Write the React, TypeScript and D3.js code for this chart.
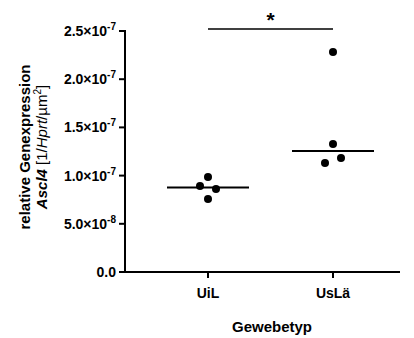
import { useRef, useEffect } from "react";
import * as d3 from "d3";

const groups = ["UiL", "UsLä"];
const uilValues = [0.985e-7, 0.892e-7, 0.861e-7, 0.757e-7];
const uilJitter = [0, -1, 1, 0];
const uslaValues = [2.282e-7, 1.328e-7, 1.183e-7, 1.131e-7];
const uslaJitter = [0, 0, 1, -1];
const yTicks = [0, 0.5e-7, 1.0e-7, 1.5e-7, 2.0e-7, 2.5e-7];

const FONT = "'Liberation Sans', Arial, Helvetica, sans-serif";

function tickLabel(v: number): [string, string | null] {
  if (v === 0) return ["0.0", null];
  const exp = Math.floor(Math.log10(v));
  const mant = v / Math.pow(10, exp);
  return [`${mant.toFixed(1)}×10`, `${exp}`];
}

export default function App() {
  const svgRef = useRef<SVGSVGElement>(null);

  useEffect(() => {
    if (!svgRef.current) return;
    const svg = d3.select(svgRef.current);
    svg.selectAll("*").remove();

    const left = 125, right = 400, top = 31, bottom = 272;
    const y = d3.scaleLinear().domain([0, 2.5e-7]).range([bottom, top]);
    const x = d3.scalePoint().domain(groups).range([208, 333]);
    const r = 4;
    const jitterStep = 8;
    const halfMedian = 41;

    // y axis
    const ya = svg.append("g").attr("transform", `translate(${left},0)`);
    ya.append("line").attr("x1", 0).attr("x2", 0).attr("y1", y(2.5e-7) - 1).attr("y2", bottom + 1)
      .attr("stroke", "#000").attr("stroke-width", 2);
    yTicks.forEach(t => {
      ya.append("line").attr("x1", -6).attr("x2", 0).attr("y1", y(t)).attr("y2", y(t))
        .attr("stroke", "#000").attr("stroke-width", 2);
      const [main, sup] = tickLabel(t);
      const txt = ya.append("text").attr("x", -9).attr("y", y(t) + 5)
        .attr("text-anchor", "end").attr("font-family", FONT).attr("font-weight", "bold")
        .attr("font-size", 14).attr("fill", "#000");
      txt.append("tspan").text(main);
      if (sup) txt.append("tspan").attr("dy", -6).attr("font-size", 10).text(sup);
    });

    // x axis
    const xa = svg.append("g");
    xa.append("line").attr("x1", left - 1).attr("x2", right).attr("y1", bottom).attr("y2", bottom)
      .attr("stroke", "#000").attr("stroke-width", 2);
    groups.forEach(gname => {
      const gx = x(gname)!;
      xa.append("line").attr("x1", gx).attr("x2", gx).attr("y1", bottom).attr("y2", bottom + 6)
        .attr("stroke", "#000").attr("stroke-width", 2);
      xa.append("text").attr("x", gx).attr("y", bottom + 26).attr("text-anchor", "middle")
        .attr("font-family", FONT).attr("font-weight", "bold").attr("font-size", 14).text(gname);
    });
    svg.append("text").attr("x", 272).attr("y", 332).attr("text-anchor", "middle")
      .attr("font-family", FONT).attr("font-weight", "bold").attr("font-size", 15).text("Gewebetyp");

    // y label
    const yl = svg.append("g").attr("transform", "translate(30,147) rotate(-90)");
    yl.append("text").attr("text-anchor", "middle").attr("font-family", FONT)
      .attr("font-weight", "bold").attr("font-size", 15).text("relative Genexpression");
    const l2 = yl.append("text").attr("y", 17).attr("text-anchor", "middle").attr("font-family", FONT)
      .attr("font-size", 15);
    l2.append("tspan").attr("font-weight", "bold").attr("font-style", "italic").text("Ascl4");
    l2.append("tspan").text(" [1/");
    l2.append("tspan").attr("font-style", "italic").text("Hprt");
    l2.append("tspan").text("/µm");
    l2.append("tspan").attr("dy", -6).attr("font-size", 10).text("2");
    l2.append("tspan").attr("dy", 6).text("]");

    // data
    const series: [string, number[], number[]][] = [
      [groups[0], uilValues, uilJitter],
      [groups[1], uslaValues, uslaJitter],
    ];
    series.forEach(([gname, vals, jit]) => {
      const cx = x(gname)!;
      const med = d3.median(vals)!;
      svg.append("line").attr("x1", cx - halfMedian).attr("x2", cx + halfMedian)
        .attr("y1", y(med)).attr("y2", y(med)).attr("stroke", "#000").attr("stroke-width", 2);
      svg.selectAll(null).data(vals).enter().append("circle")
        .attr("cx", (_d, i) => cx + jit[i] * jitterStep)
        .attr("cy", d => y(d)).attr("r", r).attr("fill", "#000");
    });

    // significance
    const sigY = 29;
    svg.append("line").attr("x1", x(groups[0])!).attr("x2", x(groups[1])!)
      .attr("y1", sigY).attr("y2", sigY).attr("stroke", "#000").attr("stroke-width", 1.3);
    svg.append("text").attr("x", (x(groups[0])! + x(groups[1])!) / 2).attr("y", sigY - 2)
      .attr("text-anchor", "middle").attr("font-family", FONT).attr("font-weight", "bold")
      .attr("font-size", 21).text("*");
  }, []);

  return (
    <svg ref={svgRef} width={414} height={338}
      style={{ position: "absolute", left: 0, top: 0, background: "#fff" }} />
  );
}
